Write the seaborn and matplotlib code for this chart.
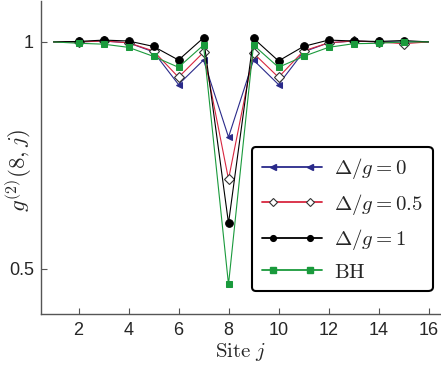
import numpy as np
import pandas as pd
import seaborn as sns
import matplotlib.pyplot as plt
from matplotlib.lines import Line2D
from matplotlib.legend_handler import HandlerLine2D, HandlerTuple

# g2(8, j) correlations
sites = list(range(1, 17))
g_delta0 = [1.000, 1.000, 1.002, 0.998, 0.978, 0.906, 0.960, 0.790,
            0.960, 0.906, 0.978, 0.998, 1.002, 1.000, 1.000, 1.000]
g_delta05 = [1.000, 1.000, 1.002, 0.998, 0.980, 0.922, 0.977, 0.697,
             0.975, 0.922, 0.980, 0.998, 1.002, 1.000, 0.996, 1.000]
g_delta1 = [1.000, 1.001, 1.004, 1.002, 0.990, 0.960, 1.009, 0.600,
            1.008, 0.958, 0.990, 1.004, 1.002, 1.001, 1.003, 1.000]
g_bh = [1.000, 0.997, 0.995, 0.988, 0.968, 0.944, 0.993, 0.465,
        0.993, 0.944, 0.968, 0.988, 0.996, 0.997, 1.000, 1.000]
labels = [r"$\Delta/g = 0$", r"$\Delta/g = 0.5$", r"$\Delta/g = 1$", r"$\mathrm{BH}$"]

sns.set_theme(style="white")
plt.rcParams['font.family'] = ['Liberation Sans', 'DejaVu Sans']
plt.rcParams['mathtext.fontset'] = 'cm'

fig = plt.figure(figsize=(4.41, 3.68), dpi=100)
ax = fig.add_axes([0.093, 0.147, 0.907, 0.85])

styles = [
    dict(color='#2a2a8a', marker='<', ms=5, mfc='#2a2a8a', mec='#2a2a8a'),
    dict(color='#d8263f', marker='D', ms=5, mfc='white', mec='#333333', mew=0.8),
    dict(color='#000000', marker='o', ms=5.5, mfc='black', mec='black'),
    dict(color='#1a9a3c', marker='s', ms=5, mfc='#1a9a3c', mec='#1a9a3c'),
]
series = [g_delta0, g_delta05, g_delta1, g_bh]

handles = []
hmap = {}
for vals, lab, st in zip(series, labels, styles):
    sns.lineplot(x=sites, y=vals, ax=ax, lw=0.8, legend=False,
                 markevery=list(range(1, 15)), **st)
    # legend proxy: full-length line plus two inset markers (MATLAB look)
    ln = Line2D([], [], color=st['color'], lw=1.3)
    mk = Line2D([], [], ls='none', marker=st['marker'], ms=st['ms'] * 0.75,
                mfc=st['mfc'], mec=st['mec'], mew=st.get('mew', 1.0))
    hmap[ln] = HandlerLine2D(numpoints=2, marker_pad=0.0)
    hmap[mk] = HandlerLine2D(numpoints=2, marker_pad=0.55)
    handles.append((ln, mk))
hmap[tuple] = HandlerTuple(ndivide=1)

ax.set_xlim(0.5, 16.5)
ax.set_ylim(0.4, 1.09)
ax.set_xticks([2, 4, 6, 8, 10, 12, 14, 16])
ax.set_yticks([0.5, 1])
ax.set_yticklabels(['0.5', '1'])
ax.tick_params(direction='in', length=4, width=0.8, color='#555555',
               labelsize=13, bottom=True, left=True, pad=6)
ax.tick_params(axis='y', pad=5)
for s in ['top', 'right']:
    ax.spines[s].set_visible(False)
for s in ['left', 'bottom']:
    ax.spines[s].set_color('#555555')
    ax.spines[s].set_linewidth(1.0)

ax.set_xlabel(r"$\mathrm{Site}\ j$", fontsize=15, labelpad=1)
ax.set_ylabel(r"$g^{(2)}(8,j)$", fontsize=16.5)
ax.yaxis.set_label_coords(-0.017, 0.46)

leg = ax.legend(handles, labels, handler_map=hmap, loc='lower right',
                bbox_to_anchor=(1.005, 0.04), fontsize=15,
                handlelength=2.9, handletextpad=0.6, frameon=True,
                fancybox=True, borderpad=0.45, labelspacing=0.5)
leg.get_frame().set_edgecolor('black')
leg.get_frame().set_linewidth(1.5)
leg.get_frame().set_alpha(1)

fig.savefig('out.png', dpi=100)
